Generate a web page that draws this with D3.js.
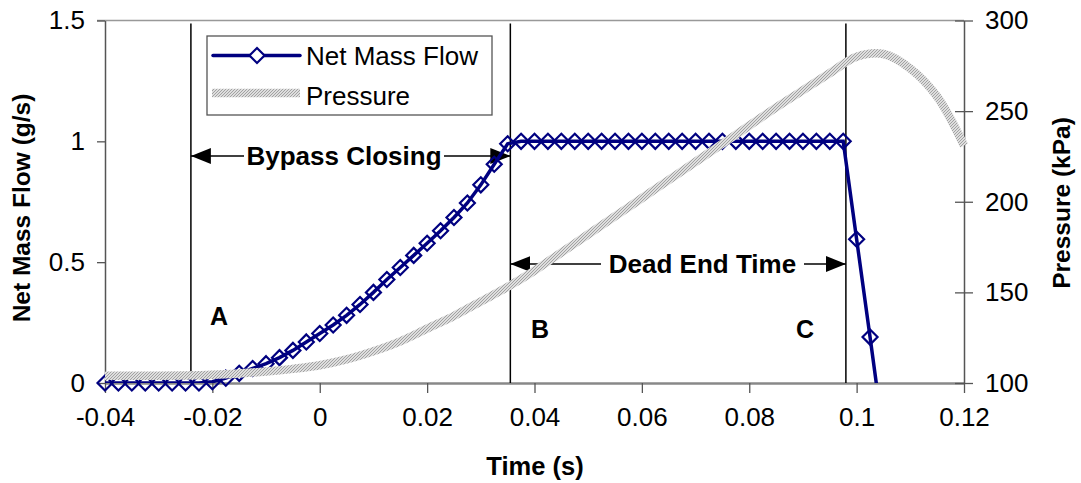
<!DOCTYPE html>
<html>
<head>
<meta charset="utf-8">
<script src="https://cdn.jsdelivr.net/npm/d3@7"></script>
<style>
  body { margin: 0; background: #fff; }
  text { font-family: "Liberation Sans", Arial, sans-serif; fill: #000; }
</style>
</head>
<body>
<svg class="chart"></svg>
<script>
// Net mass flow, one point every 2.5 ms.
var flowTime = [-0.04, -0.0375, -0.035, -0.0325, -0.03, -0.0275, -0.025, -0.0225,
    -0.02, -0.0175, -0.015, -0.0125, -0.01, -0.0075, -0.005, -0.0025,
    0, 0.0025, 0.005, 0.0075, 0.01, 0.0125, 0.015, 0.0175, 0.02, 0.0225,
    0.025, 0.0275, 0.03, 0.0325, 0.035, 0.0375, 0.04, 0.0425, 0.045, 0.0475,
    0.05, 0.0525, 0.055, 0.0575, 0.06, 0.0625, 0.065, 0.0675, 0.07, 0.0725,
    0.075, 0.0775, 0.08, 0.0825, 0.085, 0.0875, 0.09, 0.0925, 0.095, 0.0975,
    0.1, 0.1025, 0.105];
var flowValue = [0, 0, 0, 0, 0, 0, 0, 0,
    0.005, 0.02, 0.04, 0.06, 0.08, 0.105, 0.135, 0.17,
    0.205, 0.24, 0.28, 0.325, 0.375, 0.428, 0.478, 0.528, 0.578, 0.63,
    0.685, 0.745, 0.82, 0.905, 0.99, 1, 1, 1, 1, 1,
    1, 1, 1, 1, 1, 1, 1, 1, 1, 1,
    1, 1, 1, 1, 1, 1, 1, 1, 1, 1,
    0.595, 0.19, -0.22];

// Pressure (kPa).
var presTime = [-0.04, -0.035, -0.03, -0.025, -0.02, -0.015, -0.01, -0.005, 0,
    0.005, 0.01, 0.015, 0.02, 0.025, 0.03, 0.035, 0.04, 0.045, 0.05, 0.055,
    0.06, 0.065, 0.07, 0.075, 0.08, 0.085, 0.09, 0.095, 0.1, 0.105, 0.11,
    0.115, 0.12];
var presValue = [104, 104, 104, 104.2, 104.6, 105.3, 106.3, 107.8, 109.8,
    113, 117.5, 123, 130, 137, 145, 153, 162, 172, 182, 192,
    202, 212, 222, 232, 242, 252, 261.5, 271, 280, 281.5, 273.5,
    258, 231];

// Tick labels.
var xTicks = [-0.04, -0.02, 0, 0.02, 0.04, 0.06, 0.08, 0.1, 0.12];
var xTickLabels = ["-0.04", "-0.02", "0", "0.02", "0.04", "0.06", "0.08", "0.1", "0.12"];
var yFlowTicks = [0, 0.5, 1, 1.5];
var yPresTicks = [100, 150, 200, 250, 300];

// Event markers A, B, C.
var eventTime = [-0.024, 0.0355, 0.098];
var eventLabel = ["A", "B", "C"];

var width = 1081, height = 483;
var plotLeft = 105, plotRight = 964, plotTop = 20.5, plotBottom = 383;

var svg = d3.select(".chart")
    .attr("width", width)
    .attr("height", height);

var x = d3.scaleLinear().domain([-0.04, 0.12]).range([plotLeft, plotRight]);
var yFlow = d3.scaleLinear().domain([0, 1.5]).range([plotBottom, plotTop]);
var yPres = d3.scaleLinear().domain([100, 300]).range([plotBottom, plotTop]);

// Hatched grey pattern for the pressure line.
var defs = svg.append("defs");
var pat = defs.append("pattern")
    .attr("id", "hatch")
    .attr("patternUnits", "userSpaceOnUse")
    .attr("width", 3)
    .attr("height", 3);
pat.append("rect").attr("width", 3).attr("height", 3).attr("fill", "#dedede");
pat.append("path").attr("d", "M0,3L3,0").attr("stroke", "#a2a2a2").attr("stroke-width", 1);

defs.append("clipPath")
    .attr("id", "plotclip")
    .append("rect")
    .attr("x", 0).attr("y", 0)
    .attr("width", width).attr("height", plotBottom);

defs.append("marker")
    .attr("id", "arrow")
    .attr("viewBox", "0 0 20 16")
    .attr("refX", 20).attr("refY", 8)
    .attr("markerWidth", 20).attr("markerHeight", 16)
    .attr("markerUnits", "userSpaceOnUse")
    .attr("orient", "auto-start-reverse")
    .append("path")
    .attr("d", "M0,0L20,8L0,16Z")
    .attr("fill", "#000");

// Top border of the plot area.
svg.append("line")
    .attr("x1", plotLeft - 8).attr("x2", plotRight)
    .attr("y1", plotTop).attr("y2", plotTop)
    .attr("stroke", "#999").attr("stroke-width", 1.5);

// Axes.
var axisColor = "#555";
var gLeft = svg.append("g")
    .attr("transform", "translate(" + plotLeft + ",0)")
    .call(d3.axisLeft(yFlow).tickValues(yFlowTicks).tickSize(8).tickSizeOuter(0)
        .tickPadding(12).tickFormat(function (d) { return String(d); }));

var gBottom = svg.append("g")
    .attr("transform", "translate(0," + plotBottom + ")")
    .call(d3.axisBottom(x).tickValues(xTicks).tickSize(10).tickSizeOuter(0)
        .tickPadding(15).tickFormat(function (d, i) { return xTickLabels[i]; }));

var gRight = svg.append("g")
    .attr("transform", "translate(" + plotRight + ",0)")
    .call(d3.axisRight(yPres).tickValues(yPresTicks).tickSize(9).tickSizeOuter(0)
        .tickPadding(12));
gRight.selectAll(".tick line").attr("x1", -9);

[gLeft, gBottom, gRight].forEach(function (g) {
    g.select(".domain").attr("stroke", axisColor).attr("stroke-width", 1.5);
    g.selectAll(".tick line").attr("stroke", axisColor).attr("stroke-width", 1.3);
    g.selectAll(".tick text")
        .attr("font-family", "Liberation Sans, Arial, sans-serif")
        .attr("font-size", 26)
        .attr("fill", "#000");
});
gBottom.select(".domain").attr("stroke", "#888").attr("stroke-width", 2.5);

// Axis titles.
svg.append("text")
    .attr("transform", "translate(30,208) rotate(-90)")
    .attr("text-anchor", "middle")
    .attr("font-size", 24.5)
    .attr("font-weight", "bold")
    .text("Net Mass Flow (g/s)");

svg.append("text")
    .attr("transform", "translate(1070,203) rotate(-90)")
    .attr("text-anchor", "middle")
    .attr("font-size", 24.5)
    .attr("font-weight", "bold")
    .text("Pressure (kPa)");

svg.append("text")
    .attr("x", 535).attr("y", 475)
    .attr("text-anchor", "middle")
    .attr("font-size", 25.5)
    .attr("font-weight", "bold")
    .text("Time (s)");

// Vertical event lines and their letters.
svg.selectAll(".event")
    .data(eventTime)
    .enter()
    .append("line")
    .attr("class", "event")
    .attr("x1", function (d) { return x(d); })
    .attr("x2", function (d) { return x(d); })
    .attr("y1", plotTop + 3)
    .attr("y2", plotBottom)
    .attr("stroke", "#000")
    .attr("stroke-width", 1.5);

var letterPos = [[219, 325], [540, 338], [805, 338]];
svg.selectAll(".letter")
    .data(eventLabel)
    .enter()
    .append("text")
    .attr("class", "letter")
    .attr("x", function (d, i) { return letterPos[i][0]; })
    .attr("y", function (d, i) { return letterPos[i][1]; })
    .attr("text-anchor", "middle")
    .attr("font-size", 25)
    .attr("font-weight", "bold")
    .text(function (d) { return d; });

// Double arrows with labels between the event lines.
function spanArrow(x0, x1, yy, label, gapL, gapR) {
    svg.append("line")
        .attr("x1", gapL).attr("x2", x(x0))
        .attr("y1", yy).attr("y2", yy)
        .attr("stroke", "#000").attr("stroke-width", 1.5)
        .attr("marker-end", "url(#arrow)");
    svg.append("line")
        .attr("x1", gapR).attr("x2", x(x1))
        .attr("y1", yy).attr("y2", yy)
        .attr("stroke", "#000").attr("stroke-width", 1.5)
        .attr("marker-end", "url(#arrow)");
    svg.append("text")
        .attr("x", (gapL + gapR) / 2).attr("y", yy + 9)
        .attr("text-anchor", "middle")
        .attr("font-size", 26)
        .attr("font-weight", "bold")
        .text(label);
}
spanArrow(eventTime[0], eventTime[1], 156, "Bypass Closing", 244, 444);
spanArrow(eventTime[1], eventTime[2], 264, "Dead End Time", 601, 804);

// Net mass flow series.
var flowData = flowTime.map(function (t, i) { return { t: t, v: flowValue[i] }; });
var presData = presTime.map(function (t, i) { return { t: t, v: presValue[i] }; });

var flowLine = d3.line()
    .x(function (d) { return x(d.t); })
    .y(function (d) { return yFlow(d.v); });

svg.append("path")
    .datum(flowData)
    .attr("clip-path", "url(#plotclip)")
    .attr("d", flowLine)
    .attr("fill", "none")
    .attr("stroke", "#000080")
    .attr("stroke-width", 3.5);

var diamond = "M0,-7.5L7.5,0L0,7.5L-7.5,0Z";
svg.selectAll(".dot")
    .data(flowData.filter(function (d) { return d.v >= 0; }))
    .enter()
    .append("path")
    .attr("class", "dot")
    .attr("transform", function (d) {
        return "translate(" + x(d.t) + "," + yFlow(d.v) + ")";
    })
    .attr("d", diamond)
    .attr("fill", "none")
    .attr("stroke", "#000080")
    .attr("stroke-width", 2.2);

// Pressure series, drawn on top.
var presLine = d3.line()
    .curve(d3.curveCatmullRom)
    .x(function (d) { return x(d.t); })
    .y(function (d) { return yPres(d.v); });

svg.append("path")
    .datum(presData)
    .attr("d", presLine)
    .attr("fill", "none")
    .attr("stroke", "url(#hatch)")
    .attr("stroke-width", 8.5);

// Legend.
var legend = svg.append("g").attr("transform", "translate(207,36)");
legend.append("rect")
    .attr("width", 285).attr("height", 79)
    .attr("fill", "#fff")
    .attr("stroke", "#555").attr("stroke-width", 1.3);
legend.append("line")
    .attr("x1", 6).attr("x2", 93).attr("y1", 19.5).attr("y2", 19.5)
    .attr("stroke", "#000080").attr("stroke-width", 3.5)
    .attr("stroke-linecap", "round");
legend.append("path")
    .attr("transform", "translate(50,19.5)")
    .attr("d", diamond)
    .attr("fill", "#fff")
    .attr("stroke", "#000080")
    .attr("stroke-width", 2.2);
legend.append("line")
    .attr("x1", 5).attr("x2", 93).attr("y1", 57).attr("y2", 57)
    .attr("stroke", "url(#hatch)").attr("stroke-width", 8.5);
legend.append("text")
    .attr("x", 99).attr("y", 29)
    .attr("font-size", 26)
    .text("Net Mass Flow");
legend.append("text")
    .attr("x", 99).attr("y", 69)
    .attr("font-size", 26)
    .text("Pressure");
</script>
</body>
</html>
